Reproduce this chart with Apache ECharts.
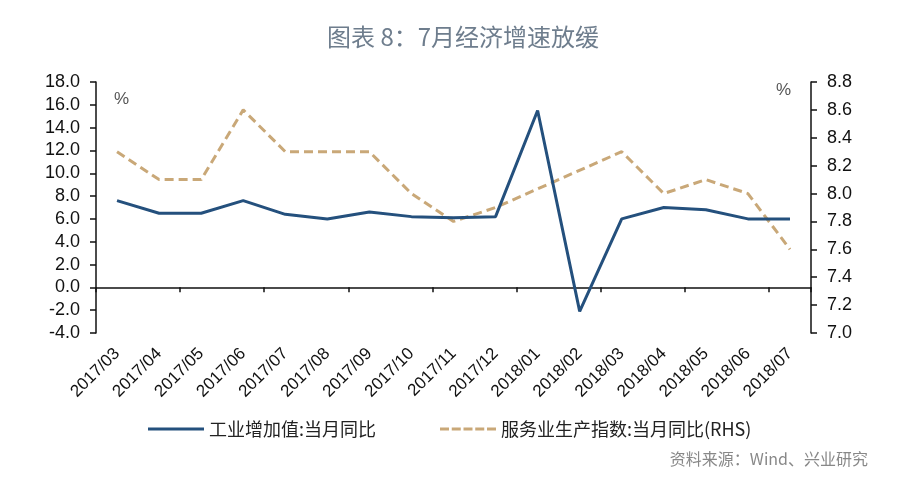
<!DOCTYPE html>
<html>
<head>
<meta charset="utf-8">
<script src="https://cdn.jsdelivr.net/npm/echarts@6/dist/echarts.min.js"></script>
<style>
html,body{margin:0;padding:0;background:#fff;}
#chart{width:900px;height:487px;}
</style>
</head>
<body>
<div id="chart"></div>
<script>
const categories = ['2017/03','2017/04','2017/05','2017/06','2017/07','2017/08','2017/09','2017/10','2017/11','2017/12','2018/01','2018/02','2018/03','2018/04','2018/05','2018/06','2018/07'];
const industrial = [7.6, 6.5, 6.5, 7.6, 6.4, 6.0, 6.6, 6.2, 6.1, 6.2, 15.5, -2.1, 6.0, 7.0, 6.8, 6.0, 6.0];
const services = [8.3, 8.1, 8.1, 8.6, 8.3, 8.3, 8.3, 8.0, 7.8, 7.9, null, null, 8.3, 8.0, 8.1, 8.0, 7.6];
const seriesNames = ['工业增加值:当月同比', '服务业生产指数:当月同比(RHS)'];
const titleText = '图表 8：7月经济增速放缓';
const sourceText = '资料来源：Wind、兴业研究';

const chart = echarts.init(document.getElementById('chart'));
const labelFont = '"Liberation Sans", Arial, sans-serif';
const cjkFont = '"Noto Sans CJK SC", sans-serif';
const solidIcon = 'path://M0,6L56,6L56,9L0,9Z';
const dashIcon = 'path://M0,6L9,6L9,9L0,9ZM11.75,6L20.75,6L20.75,9L11.75,9ZM23.5,6L32.5,6L32.5,9L23.5,9ZM35.25,6L44.25,6L44.25,9L35.25,9ZM47,6L56,6L56,9L47,9Z';
chart.setOption({
  animation: false,
  backgroundColor: '#ffffff',
  title: {
    text: titleText,
    left: 322,
    top: 20,
    textStyle: {color: '#6e7d8d', fontSize: 24, fontWeight: 'normal', fontFamily: cjkFont}
  },
  grid: {left: 96, right: 89, top: 82, bottom: 154, containLabel: false},
  legend: {
    left: 143,
    top: 415,
    itemWidth: 56,
    itemHeight: 14,
    itemGap: 64,
    textStyle: {color: '#222', fontSize: 18, fontFamily: cjkFont},
    data: [
      {name: seriesNames[0], icon: solidIcon, itemStyle: {color: '#24507d'}},
      {name: seriesNames[1], icon: dashIcon, itemStyle: {color: '#c9a878'}}
    ]
  },
  xAxis: [
    {
      type: 'category',
      data: categories,
      position: 'bottom',
      boundaryGap: true,
      axisLine: {show: false, onZero: false},
      axisTick: {show: false},
      axisLabel: {rotate: 45, margin: 18, color: '#111', fontSize: 17, fontFamily: labelFont, interval: 0}
    },
    {
      type: 'category',
      data: categories,
      position: 'top',
      boundaryGap: true,
      axisLine: {show: true, onZero: true, onZeroAxisIndex: 0, lineStyle: {color: '#111', width: 1.5}},
      axisTick: {show: true, inside: true, length: 5, lineStyle: {color: '#111', width: 1.5}},
      axisLabel: {show: false}
    }
  ],
  yAxis: [
    {
      type: 'value',
      min: -4, max: 18, interval: 2,
      position: 'left',
      axisLine: {show: true, lineStyle: {color: '#111', width: 1.5}},
      axisTick: {show: true, length: 6, lineStyle: {color: '#111', width: 1.5}},
      splitLine: {show: false},
      axisLabel: {color: '#111', fontSize: 18, fontFamily: labelFont, margin: 16, formatter: v => v.toFixed(1)}
    },
    {
      type: 'value',
      min: 7.0, max: 8.8, interval: 0.2,
      position: 'right',
      axisLine: {show: true, lineStyle: {color: '#111', width: 1.5}},
      axisTick: {show: true, length: 6, lineStyle: {color: '#111', width: 1.5}},
      splitLine: {show: false},
      axisLabel: {color: '#111', fontSize: 18, fontFamily: labelFont, margin: 16, formatter: v => v.toFixed(1)}
    }
  ],
  graphic: [
    {type: 'text', left: 114, top: 91, style: {text: '%', fill: '#555', fontSize: 17, fontFamily: labelFont}},
    {type: 'text', left: 776, top: 82, style: {text: '%', fill: '#555', fontSize: 17, fontFamily: labelFont}},
    {type: 'text', right: 32, top: 451, style: {text: sourceText, fill: '#888', fontSize: 16, fontFamily: cjkFont}}
  ],
  series: [
    {
      name: seriesNames[0],
      type: 'line',
      xAxisIndex: 0,
      yAxisIndex: 0,
      data: industrial,
      symbol: 'none',
      lineStyle: {color: '#24507d', width: 3},
      itemStyle: {color: '#24507d'},
      z: 3
    },
    {
      name: seriesNames[1],
      type: 'line',
      xAxisIndex: 0,
      yAxisIndex: 1,
      data: services,
      connectNulls: true,
      symbol: 'none',
      lineStyle: {color: '#c9a878', width: 3, type: [9, 5]},
      itemStyle: {color: '#c9a878'},
      z: 2
    }
  ]
});
</script>
</body>
</html>
